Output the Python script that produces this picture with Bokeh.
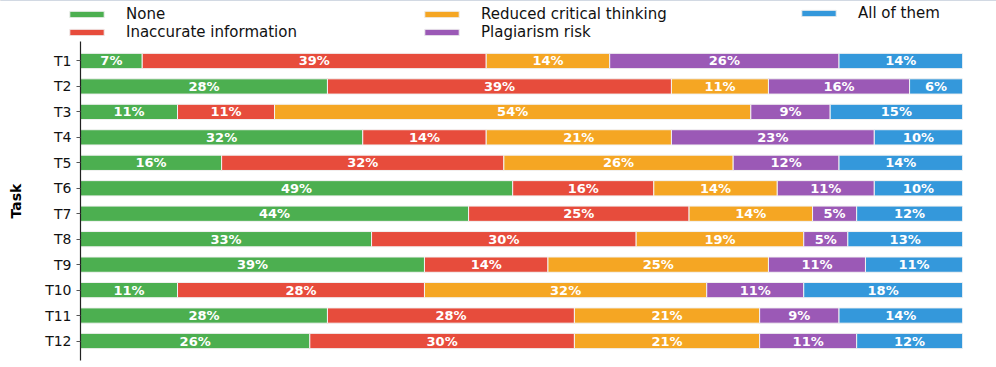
from bokeh.plotting import figure
from bokeh.layouts import column
from bokeh.models import ColumnDataSource, FactorRange, Legend, LegendItem
from bokeh.core.properties import value
from bokeh.embed import file_html
from bokeh.resources import INLINE

tasks = ["T1", "T2", "T3", "T4", "T5", "T6", "T7", "T8", "T9", "T10", "T11", "T12"]
categories = ["None", "Inaccurate information", "Reduced critical thinking", "Plagiarism risk", "All of them"]
none_vals = [7, 28, 11, 32, 16, 49, 44, 33, 39, 11, 28, 26]
inaccurate_vals = [39, 39, 11, 14, 32, 16, 25, 30, 14, 28, 28, 30]
reduced_vals = [14, 11, 54, 21, 26, 14, 14, 19, 25, 32, 21, 21]
plagiarism_vals = [26, 16, 9, 23, 12, 11, 5, 5, 11, 11, 9, 11]
all_vals = [14, 6, 15, 10, 14, 10, 12, 13, 11, 18, 14, 12]
colors = ["#4CAF50", "#E74C3C", "#F5A623", "#9B59B6", "#3498DB"]

series = [none_vals, inaccurate_vals, reduced_vals, plagiarism_vals, all_vals]

FONT = "DejaVu Sans"

# ---- legend strip (separate figure above the chart) ----
leg = figure(width=996, height=41, output_backend="svg", toolbar_location=None,
             x_range=(0, 1), y_range=(0, 1), min_border=0,
             min_border_left=0, min_border_right=0)
leg.frame_align = False
leg.axis.visible = False
leg.grid.visible = False
leg.outline_line_color = None
proxy = []
for col in colors:
    # legend proxies, placed outside the visible range
    proxy.append(leg.hbar(y=[5], left=[0], right=[1], height=0.5, fill_color=col,
                          line_color="#eeeeee", line_width=1))

def make_legend(idx, loc):
    items = [LegendItem(label=categories[i], renderers=[proxy[i]]) for i in idx]
    lg = Legend(items=items, location=loc, orientation="vertical",
                glyph_width=43, glyph_height=8, label_standoff=18, spacing=0,
                padding=0, margin=0, border_line_alpha=0, background_fill_alpha=0,
                label_text_font=FONT, label_text_font_size="15px",
                label_height=16, label_text_color="#111111")
    leg.add_layout(lg, "center")

make_legend([0, 1], (65, 0))
make_legend([2, 3], (420, 0))
make_legend([4], (797, 19))

# ---- main chart ----
p = figure(width=996, height=326, output_backend="svg", toolbar_location=None,
           y_range=FactorRange(factors=list(reversed(tasks)), range_padding=0.0443,
                               range_padding_units="percent"),
           x_range=(0, 100), min_border_left=80, min_border_right=34,
           min_border_top=0, min_border_bottom=7)
p.frame_align = False

left = [0] * len(tasks)
for name, vals, col in zip(categories, series, colors):
    right = [l + v for l, v in zip(left, vals)]
    mid = [(l + r) / 2 for l, r in zip(left, right)]
    src = ColumnDataSource(dict(task=tasks, left=left, right=right, mid=mid,
                                lab=[f"{v}%" for v in vals]))
    p.hbar(y="task", left="left", right="right", height=0.6, source=src,
           fill_color=col, line_color="#f2f2f2", line_width=1)
    p.text(x="mid", y="task", text="lab", source=src, text_color="white",
           text_font=value(FONT), text_font_style="bold", text_font_size="13px",
           text_align="center", text_baseline="middle")
    left = right

p.xaxis.visible = False
p.xgrid.visible = False
p.ygrid.visible = False
p.outline_line_color = None

ax = p.yaxis[0]
ax.axis_label = "Task"
ax.axis_label_text_font = FONT
ax.axis_label_text_font_style = "bold"
ax.axis_label_text_font_size = "14px"
ax.axis_label_text_color = "#000000"
ax.axis_label_standoff = 18
ax.axis_line_color = "#222222"
ax.axis_line_width = 1.2
ax.major_tick_out = 4
ax.major_tick_in = 0
ax.major_tick_line_color = "#555555"
ax.major_label_text_font = FONT
ax.major_label_text_font_size = "14px"
ax.major_label_text_color = "#111111"
ax.major_label_standoff = 5

layout = column(leg, p, spacing=0)
open("out.html", "w").write(file_html(layout, INLINE))
